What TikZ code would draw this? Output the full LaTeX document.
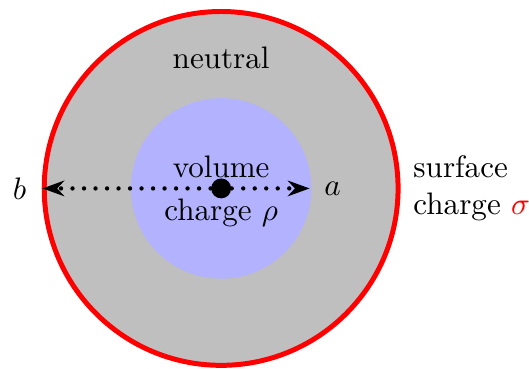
\documentclass[tikz,border=0pt]{standalone}
\usetikzlibrary{positioning, arrows.meta}
\begin{document}
\begin{tikzpicture}[
        shell/.style={draw=red, ultra thick, fill=lightgray},
        core/.style={fill=blue!30},
        radius arrow/.style={line width=1.4pt, dash pattern=on 0pt off 3.7pt, line cap=round, -{Stealth[length=7pt, width=5pt]}},
        dot/.style={circle, fill=black, inner sep=0pt, minimum size=6.4pt}
    ]
    \useasboundingbox (-2.5,-2.03) rectangle (3.48,2.13);
    \draw[shell] (0,0) circle (2);
    \fill[core] (0,0) circle (1.02);
    \node (Center) [dot] at (0,0) {};
    \coordinate (A) at (1,0);
    \coordinate (B) at (-2.02,0);
    \draw[radius arrow] (Center) -- (A);
    \draw[radius arrow] (Center) -- (B);
    \node (LabelA) at (1.26,0) {$a$};
    \node (LabelB) at (-2.28,0) {$b$};
    \node (Neutral) at (0,1.48) {neutral};
    \node (Volume) [above] at (0,0) {volume};
    \node (Charge) [below] at (0,0) {charge $\rho$};
    \node (Surface) [right, align=left] at (2.05,0) {surface\\charge \textcolor{red}{$\sigma$}};
\end{tikzpicture}
\end{document}
